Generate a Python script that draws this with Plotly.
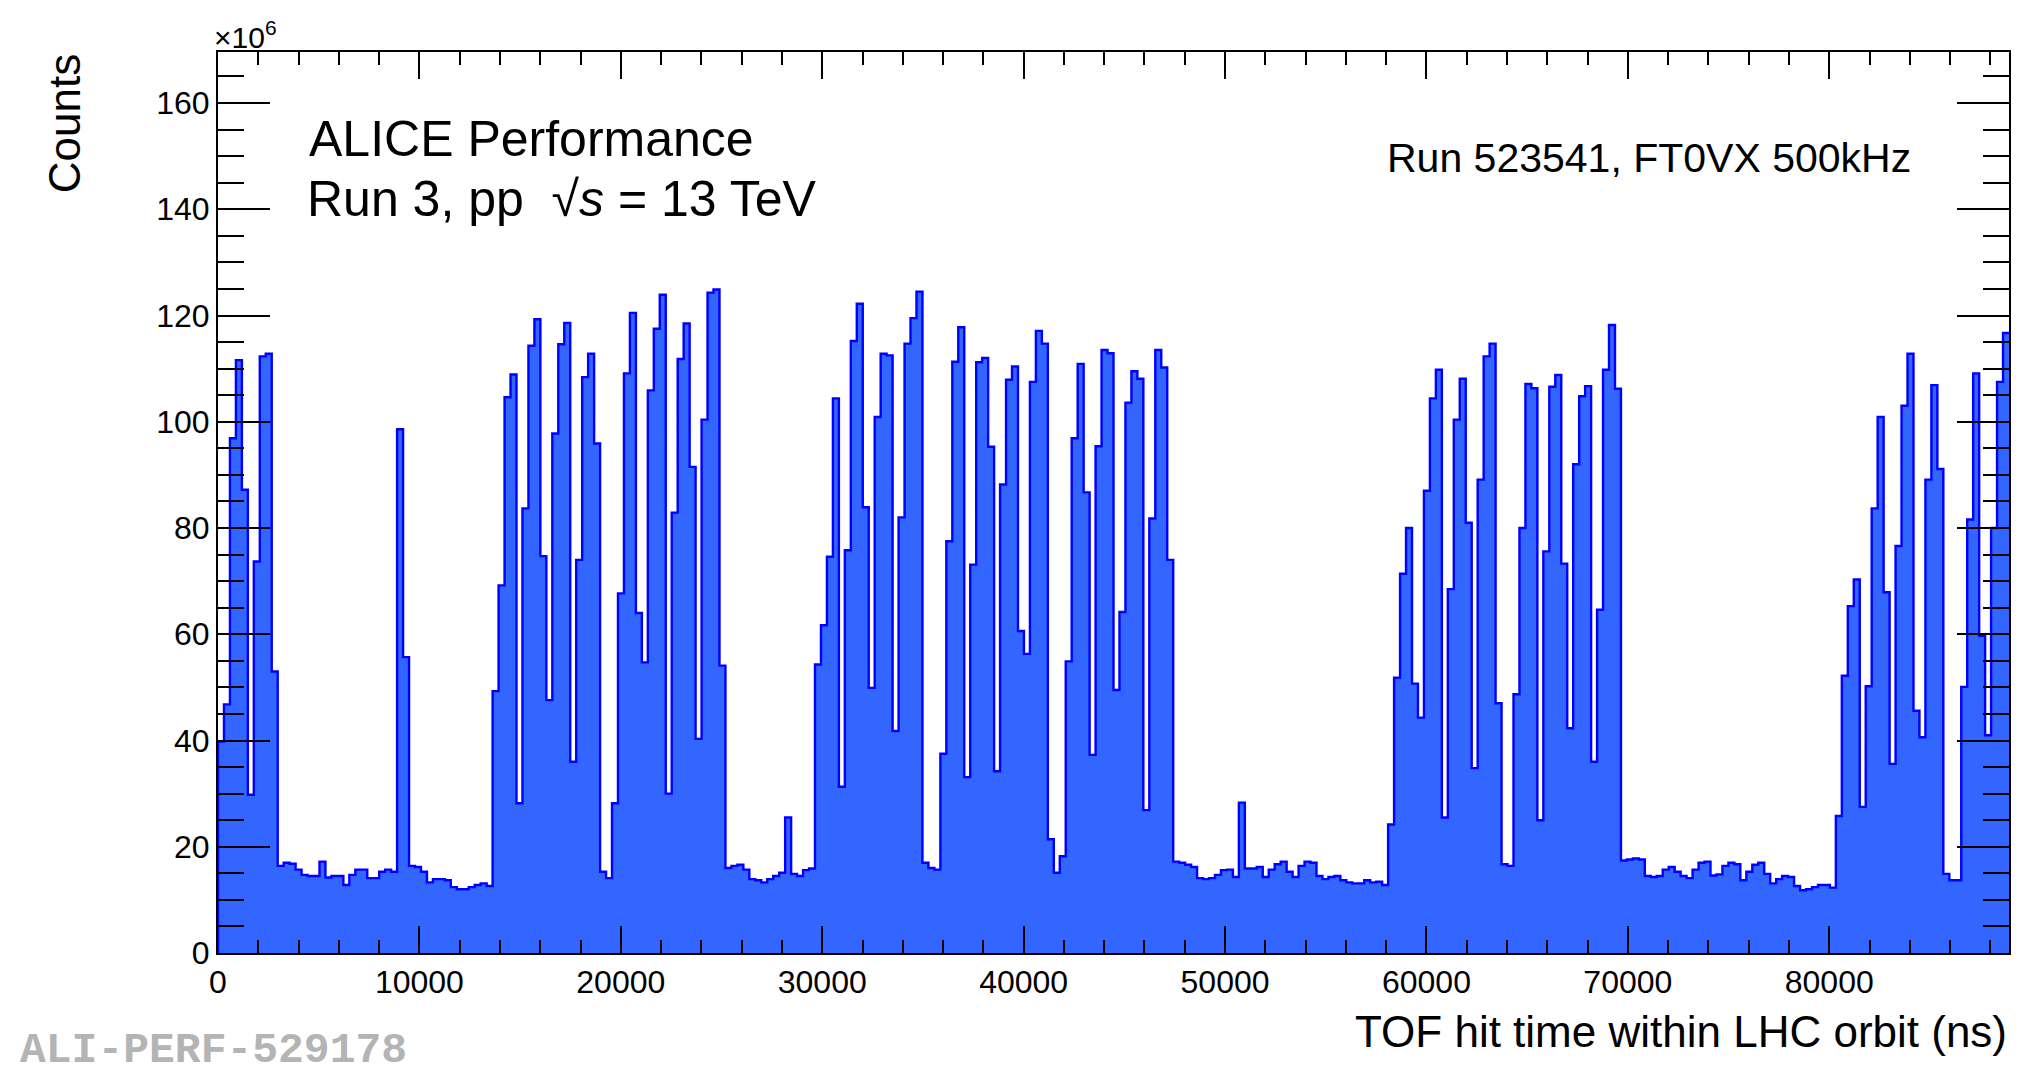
import numpy as np
import plotly.graph_objects as go

# Histogram: TOF hit time within LHC orbit, 300 bins over one orbit (ns)
orbit_ns = 88924.6
n_bins = 300
# Counts per bin in units of 10^6
counts_1e6 = [
    39.8, 46.8, 96.9, 111.6, 87.2, 29.8, 73.7, 112.3, 112.8, 53.0,
    16.4, 17.0, 16.8, 15.7, 14.7, 14.5, 14.5, 17.2, 14.2, 14.5,
    14.5, 12.8, 14.7, 15.7, 15.7, 14.1, 14.1, 15.3, 15.7, 15.3,
    98.6, 55.7, 16.4, 16.2, 15.3, 13.3, 13.9, 13.9, 13.7, 12.4,
    12.0, 12.0, 12.4, 12.8, 13.1, 12.6, 49.3, 69.2, 104.6, 108.9,
    28.2, 83.7, 114.3, 119.3, 74.7, 47.6, 97.8, 114.6, 118.6, 36.0,
    74.0, 108.4, 112.8, 95.9, 15.3, 14.1, 28.2, 67.7, 109.1, 120.5,
    64.0, 54.7, 105.9, 117.5, 123.9, 30.0, 82.9, 111.8, 118.5, 91.5,
    40.3, 100.4, 124.3, 124.9, 54.1, 16.0, 16.4, 16.6, 15.7, 13.9,
    13.7, 13.3, 13.9, 14.5, 15.1, 25.5, 14.9, 14.5, 15.6, 15.9,
    54.3, 61.7, 74.6, 104.4, 31.3, 75.8, 115.2, 122.2, 83.9, 49.9,
    100.9, 112.8, 112.5, 41.8, 82.0, 114.7, 119.5, 124.5, 17.0, 16.0,
    15.7, 37.5, 77.5, 111.3, 117.8, 33.1, 73.1, 111.2, 112.0, 95.3,
    34.2, 88.2, 107.9, 110.4, 60.6, 56.3, 107.5, 117.1, 114.7, 21.4,
    15.1, 18.2, 54.9, 96.9, 110.9, 86.7, 37.3, 95.4, 113.5, 112.9,
    49.5, 64.2, 103.6, 109.5, 108.1, 26.9, 81.8, 113.5, 110.2, 74.0,
    17.2, 17.0, 16.6, 16.2, 14.1, 13.9, 14.1, 14.7, 15.6, 15.7,
    14.3, 28.3, 15.9, 15.9, 16.2, 14.3, 15.7, 16.7, 17.2, 15.3,
    14.3, 16.4, 17.2, 17.0, 14.5, 13.9, 14.3, 14.5, 13.7, 13.3,
    13.1, 13.1, 13.7, 13.3, 13.4, 12.8, 24.2, 51.8, 71.4, 80.0,
    50.7, 44.3, 87.0, 104.4, 109.8, 25.5, 68.5, 100.4, 108.1, 81.0,
    34.8, 89.1, 112.3, 114.7, 47.0, 16.7, 16.4, 48.7, 80.0, 107.1,
    106.3, 25.0, 75.6, 106.6, 108.8, 73.3, 42.3, 92.0, 104.8, 106.7,
    36.0, 64.6, 109.8, 118.2, 106.2, 17.4, 17.6, 17.8, 17.6, 14.5,
    14.3, 14.5, 15.7, 16.2, 15.3, 14.5, 14.1, 15.7, 17.0, 17.2,
    14.6, 14.8, 16.4, 17.0, 16.7, 13.7, 15.3, 16.6, 17.0, 14.9,
    13.1, 13.9, 14.5, 14.3, 12.6, 11.8, 12.0, 12.4, 12.8, 12.8,
    12.3, 25.8, 52.2, 65.3, 70.3, 27.5, 50.2, 83.7, 100.9, 67.9,
    35.6, 76.6, 103.0, 112.8, 45.6, 40.6, 89.1, 106.9, 91.1, 14.9,
    13.7, 13.7, 50.1, 81.6, 109.1, 59.7, 41.0, 80.0, 107.5, 116.7,
]

x_ticks = [0, 10000, 20000, 30000, 40000, 50000, 60000, 70000, 80000]
y_ticks = [0, 20, 40, 60, 80, 100, 120, 140, 160]
y_max = 169.6

edges = np.linspace(0.0, orbit_ns, n_bins + 1)
xs = [0.0] + list(edges[:-1]) + [edges[-1]]
ys = [0.0] + list(counts_1e6) + [counts_1e6[-1]]

FONT = "Liberation Sans, Arial, Helvetica, sans-serif"

fig = go.Figure()
fig.add_trace(go.Scatter(
    x=xs, y=ys, mode="lines", line=dict(shape="hv", color="#0000ff", width=2.4),
    fill="tozeroy", fillcolor="#3366ff", showlegend=False, hoverinfo="skip",
))

axis_common = dict(
    showline=True, linecolor="black", linewidth=2, mirror="allticks",
    ticks="inside", tickcolor="black", tickwidth=2, showgrid=False, zeroline=False,
    tickfont=dict(family=FONT, size=32, color="black"),
)
fig.update_xaxes(
    range=[0, orbit_ns], tickvals=x_ticks, ticktext=[str(v) for v in x_ticks],
    ticklen=27,
    minor=dict(dtick=2000, tick0=0, ticks="inside", ticklen=13, tickwidth=2, tickcolor="black", showgrid=False),
    **axis_common,
)
fig.update_yaxes(
    range=[0, y_max], tickvals=y_ticks, ticktext=[str(v) for v in y_ticks],
    ticklen=52,
    minor=dict(dtick=5, tick0=0, ticks="inside", ticklen=26, tickwidth=2, tickcolor="black", showgrid=False),
    **axis_common,
)

ann = []
ann.append(dict(text="×10<sup>6</sup>", xref="paper", yref="paper", x=0, y=1, xanchor="left",
                yanchor="bottom", xshift=-6, yshift=-4, showarrow=False,
                font=dict(family=FONT, size=30, color="black")))
ann.append(dict(text="Counts", xref="paper", yref="paper", x=-0.0856, y=1, xanchor="center",
                yanchor="top", textangle=-90, showarrow=False,
                font=dict(family=FONT, size=44, color="black")))
ann.append(dict(text="TOF hit time within LHC orbit (ns)", xref="paper", yref="paper", x=1,
                y=-0.0875, xanchor="right", yanchor="middle", showarrow=False,
                font=dict(family=FONT, size=44, color="black")))
ann.append(dict(text="ALICE Performance", xref="paper", yref="paper", x=0.0495, y=0.9034,
                xanchor="left", yanchor="middle", showarrow=False,
                font=dict(family=FONT, size=50, color="black")))
ann.append(dict(text="Run 3, pp\u00a0 √<i>s</i> = 13 TeV", xref="paper", yref="paper", x=0.0485, y=0.8363,
                xanchor="left", yanchor="middle", showarrow=False,
                font=dict(family=FONT, size=50, color="black")))
ann.append(dict(text="Run 523541, FT0VX 500kHz", xref="paper", yref="paper", x=0.9463, y=0.8824,
                xanchor="right", yanchor="middle", showarrow=False,
                font=dict(family=FONT, size=41, color="black")))
ann.append(dict(text="<b>ALI-PERF-529178</b>", xref="paper", yref="paper", x=-0.1119, y=-0.1085,
                xanchor="left", yanchor="middle", showarrow=False,
                font=dict(family="Liberation Mono, Courier New, monospace", size=43, color="#b4b4b4")))

fig.update_layout(
    width=2044, height=1077, margin=dict(l=218, r=35, t=52, b=124, autoexpand=False),
    paper_bgcolor="white", plot_bgcolor="white", showlegend=False, annotations=ann,
)
fig.write_html("out.html")
